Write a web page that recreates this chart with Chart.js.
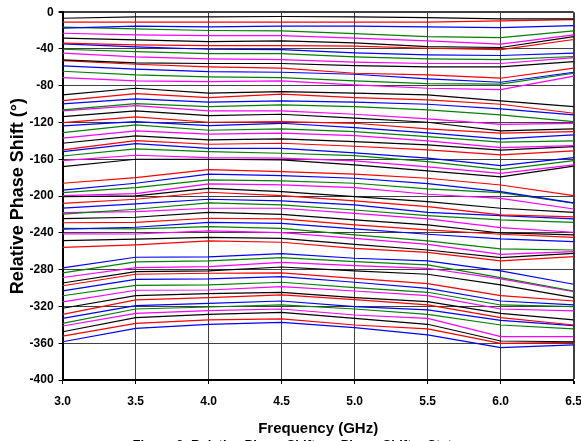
<!DOCTYPE html>
<html>
<head>
<meta charset="utf-8">
<script src="https://cdn.jsdelivr.net/npm/chart.js@4.4.1/dist/chart.umd.min.js"></script>
<style>
  body { margin: 0; overflow: hidden; background: #fff; }
</style>
</head>
<body>
<canvas id="myChart" width="592" height="453"></canvas>
<script>
// Relative phase shift of the 63 shifter states, read per frequency column

const freqs = ['3.0', '3.5', '4.0', '4.5', '5.0', '5.5', '6.0', '6.5'];
const lineColors = ['#000000', '#FF0000', '#0000FF', '#008000', '#FF00FF'];   // black, red, blue, green, magenta

const f30 = [-6.6, -10.9, -17.4, -16.3, -22.9, -28.3, -33.7, -34.5, -40.3, -44.6,
  -51.9, -52.7, -58.4, -64.2, -71.2, -90.0, -96.2, -99.8, -106.3, -107.4,
  -113.6, -120.1, -123.7, -131.0, -137.0, -142.5, -149.8, -151.7, -156.4, -161.5,
  -168.0, -186.0, -193.4, -196.3, -199.5, -200.6, -207.9, -213.0, -219.5, -218.0,
  -224.6, -229.0, -236.0, -235.0, -241.0, -248.5, -255.7, -278.0, -283.5, -288.5,
  -294.5, -297.5, -303.0, -308.4, -315.0, -322.0, -328.6, -333.0, -338.4, -341.3,
  -347.5, -352.2, -358.4];
const f35 = [-5.1, -10.9, -15.2, -18.1, -24.7, -30.1, -35.5, -37.7, -42.8, -48.6,
  -55.1, -56.6, -62.0, -68.2, -74.7, -82.7, -88.5, -94.3, -99.4, -101.5,
  -107.3, -113.9, -118.9, -122.6, -129.1, -134.5, -139.6, -142.9, -148.7, -155.6,
  -159.9, -179.9, -186.0, -190.8, -197.3, -199.8, -203.4, -208.5, -214.3, -216.9,
  -223.0, -228.5, -233.9, -235.7, -241.2, -246.9, -253.1, -266.5, -271.6, -277.8,
  -282.1, -285.0, -290.5, -297.0, -302.4, -308.3, -312.9, -319.1, -322.8, -327.5,
  -332.2, -338.4, -343.8];
const f40 = [-5.1, -10.9, -16.0, -19.9, -25.4, -31.9, -36.3, -40.3, -45.0, -50.8,
  -55.8, -59.5, -64.6, -70.4, -75.4, -88.1, -92.8, -97.9, -102.6, -107.3,
  -112.4, -119.7, -123.3, -128.4, -132.7, -138.9, -143.6, -148.0, -151.6, -158.1,
  -159.9, -171.2, -176.2, -182.4, -186.8, -191.5, -195.8, -203.4, -207.4, -213.2,
  -217.6, -224.1, -228.5, -233.2, -237.9, -244.8, -248.8, -266.2, -270.5, -276.7,
  -281.4, -283.9, -290.1, -296.6, -302.1, -306.1, -310.4, -316.6, -320.6, -324.6,
  -328.6, -334.7, -339.4];
const f45 = [-4.7, -10.9, -15.2, -20.3, -25.4, -31.2, -36.3, -40.6, -45.0, -51.5,
  -55.8, -60.9, -65.3, -71.1, -74.7, -86.3, -89.2, -96.5, -100.8, -107.3,
  -111.0, -118.9, -120.8, -126.9, -131.6, -137.8, -142.5, -148.0, -153.4, -158.8,
  -160.7, -173.3, -177.7, -183.5, -187.8, -195.1, -199.5, -205.3, -209.6, -213.2,
  -219.8, -224.8, -229.6, -235.0, -239.7, -245.9, -250.2, -262.6, -266.9, -272.0,
  -277.1, -283.6, -287.6, -293.7, -298.5, -304.6, -307.5, -314.1, -318.4, -322.8,
  -326.4, -333.6, -337.3];
const f50 = [-5.1, -10.9, -15.2, -23.2, -28.3, -33.4, -37.0, -44.2, -48.6, -54.4,
  -58.0, -66.4, -67.5, -74.7, -79.1, -88.1, -92.8, -97.9, -102.6, -111.0,
  -115.3, -120.8, -125.5, -129.8, -134.2, -140.7, -145.8, -153.0, -155.9, -161.7,
  -166.1, -176.2, -180.6, -186.0, -190.8, -200.5, -205.3, -209.6, -215.1, -218.7,
  -225.9, -231.4, -235.7, -242.2, -245.9, -252.4, -256.8, -267.6, -271.3, -275.6,
  -281.4, -289.4, -293.7, -299.5, -303.2, -310.4, -312.6, -320.2, -322.8, -329.3,
  -332.9, -340.2, -343.1];
const f55 = [-5.8, -10.9, -16.0, -26.5, -31.2, -37.4, -39.2, -46.4, -50.8, -55.8,
  -59.5, -68.2, -72.5, -77.6, -82.7, -89.9, -95.4, -100.1, -106.3, -116.0,
  -119.7, -126.9, -131.3, -135.3, -140.0, -144.3, -149.8, -158.8, -162.5, -168.3,
  -172.6, -180.6, -186.4, -192.2, -198.0, -206.0, -211.4, -217.6, -221.2, -224.8,
  -231.4, -236.8, -241.5, -248.8, -252.4, -258.6, -261.1, -270.5, -274.9, -278.5,
  -285.0, -295.2, -300.3, -304.6, -308.3, -314.8, -318.4, -323.8, -328.6, -332.9,
  -339.4, -344.5, -351.0];
const f60 = [-7.3, -9.4, -16.7, -27.6, -34.8, -38.4, -40.6, -47.1, -51.5, -55.8,
  -59.5, -71.8, -76.2, -78.3, -84.1, -96.5, -100.1, -105.2, -111.7, -121.9,
  -129.1, -131.6, -137.8, -141.4, -147.2, -150.1, -155.2, -166.8, -171.2, -175.2,
  -179.1, -187.9, -195.1, -196.2, -202.4, -213.2, -220.5, -221.2, -225.9, -234.3,
  -240.1, -241.5, -246.6, -257.5, -263.3, -266.9, -270.5, -281.4, -288.7, -290.1,
  -296.6, -308.3, -314.1, -318.4, -322.8, -327.5, -332.2, -335.1, -340.2, -352.9,
  -357.6, -360.1, -364.8];
const f65 = [-7.3, -8.0, -14.5, -20.3, -24.7, -26.5, -29.7, -44.6, -48.2, -49.3,
  -53.7, -60.9, -65.3, -66.4, -69.6, -102.6, -109.9, -111.7, -118.9, -120.8,
  -126.9, -129.8, -133.5, -140.0, -145.1, -146.2, -150.9, -158.1, -161.4, -166.1,
  -167.5, -199.5, -207.4, -207.8, -214.0, -217.6, -222.7, -224.8, -228.5, -239.3,
  -242.2, -244.8, -249.5, -258.6, -260.4, -262.2, -265.8, -295.9, -303.2, -303.9,
  -310.4, -314.1, -318.4, -320.2, -324.9, -334.7, -340.2, -340.9, -344.5, -352.9,
  -358.4, -359.1, -361.9];

const columns = [f30, f35, f40, f45, f50, f55, f60, f65];

// one dataset per state, colours cycle through the five pens
const datasets = f30.map((v, i) => ({
    label: 'State ' + (i + 1),
    data: columns.map(col => col[i]),
    borderColor: lineColors[i % lineColors.length],
    backgroundColor: lineColors[i % lineColors.length],
    borderWidth: 1.2,
    pointRadius: 0,
    fill: false,
    tension: 0
}));

const boldFont = (size) => ({ family: "'Liberation Sans', Arial, sans-serif", size: size, weight: 'bold' });

const ctx = document.getElementById('myChart');
const myChart = new Chart(ctx, {
    type: 'line',
    data: {
        labels: freqs,
        datasets: datasets
    },
    options: {
        responsive: false,
        animation: false,
        layout: {
            padding: { left: 7, top: 6, right: 0, bottom: 0 }
        },
        scales: {
            x: {
                offset: false,
                grid: {
                    color: '#404040',
                    lineWidth: (c) => c.index === freqs.length - 1 ? 2 : 1,   // right frame
                    tickColor: '#000',
                    tickLength: 4
                },
                border: { color: '#000', width: 2 },
                ticks: { color: '#000', font: boldFont(12), padding: 10, maxRotation: 0, autoSkip: false },
                title: {
                    display: true,
                    text: 'Frequency (GHz)',
                    color: '#000',
                    font: boldFont(15),
                    padding: { top: 1, bottom: 0 }
                }
            },
            y: {
                min: -400,
                max: 0,
                grid: {
                    color: '#404040',
                    lineWidth: (c) => (c.tick && c.tick.value === 0) ? 2 : 1,   // top frame
                    tickColor: '#000',
                    tickLength: 4
                },
                border: { color: '#000', width: 2 },
                ticks: { stepSize: 40, color: '#000', font: boldFont(12), padding: 5 },
                title: {
                    display: true,
                    text: 'Relative Phase Shift (°)',
                    color: '#000',
                    font: boldFont(18),
                    padding: { top: 0, bottom: -4 }
                }
            }
        },
        plugins: {
            legend: { display: false },
            tooltip: { enabled: false },
            title: {
                display: true,
                position: 'bottom',
                text: 'Figure 6: Relative Phase Shift vs. Phase Shifter States',
                color: '#000',
                font: boldFont(13),
                padding: { top: 0, bottom: 0 }
            }
        }
    }
});
</script>
</body>
</html>
